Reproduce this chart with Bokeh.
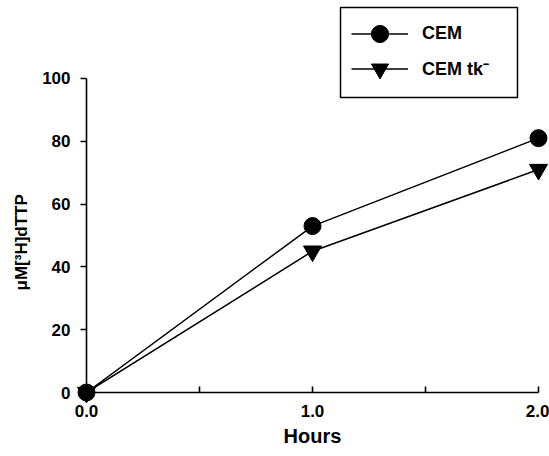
from bokeh.plotting import figure
from bokeh.models import (Range1d, FixedTicker, Legend, LegendItem, NumeralTickFormatter,
                          BoxAnnotation, Title)
from bokeh.embed import file_html
from bokeh.resources import INLINE

hours = [0.0, 1.0, 2.0]
cem = [0, 53, 81]
cem_tk = [0, 45, 71]
x_ticks = [0, 1, 2]
x_minor = [0.5, 1.5]
y_ticks = [0, 20, 40, 60, 80, 100]
series_labels = ["CEM", "CEM tk⁻"]
y_title = "μM[³H]dTTP"

FONT = "Liberation Sans"

p = figure(frame_width=452, frame_height=392, output_backend="svg", toolbar_location=None,
           x_range=Range1d(0, 2), y_range=Range1d(0, 124.84),
           min_border_left=86, min_border_top=0, min_border_right=11, min_border_bottom=10)
p.outline_line_color = None
p.xgrid.visible = False
p.ygrid.visible = False

xa = p.xaxis[0]
ya = p.yaxis[0]
ya.bounds = (0, 100)

xa.ticker = FixedTicker(ticks=x_ticks, minor_ticks=x_minor)
xa.formatter = NumeralTickFormatter(format="0.0")
xa.major_tick_in = 6
xa.major_tick_out = 0
xa.minor_tick_in = 6
xa.minor_tick_out = 0
xa.axis_label = "Hours"
ya.ticker = FixedTicker(ticks=y_ticks)
ya.major_tick_in = 0
ya.major_tick_out = 6
ya.minor_tick_line_color = None

for ax in (xa, ya):
    ax.axis_line_width = 1.6
    ax.major_tick_line_width = 1.6
    ax.minor_tick_line_width = 1.6
    ax.axis_line_color = "black"
    ax.major_tick_line_color = "black"
    ax.major_label_text_font = FONT
    ax.major_label_text_font_style = "bold"
    ax.major_label_text_font_size = "17px"
    ax.major_label_text_color = "black"
    ax.axis_label_text_font = FONT
    ax.axis_label_text_color = "black"
xa.minor_tick_line_color = "black"
xa.axis_label_text_font_style = "bold"
xa.axis_label_text_font_size = "20px"
xa.major_label_standoff = 12
xa.axis_label_standoff = 5
ya.major_label_standoff = 10

# y axis title, placed as a side title so it can sit centred on the 0-100 span
yt = Title(text=y_title, align="left", offset=102, standoff=18,
           text_font=FONT, text_font_size="17px", text_font_style="bold",
           text_color="black")
p.add_layout(yt, "left")

l1 = p.line(hours, cem, line_color="black", line_width=1.5)
s1 = p.scatter(hours, cem, marker="circle", size=17, fill_color="black", line_color="black",
               level="overlay")
l2 = p.line(hours, cem_tk, line_color="black", line_width=1.5)
s2 = p.scatter(hours, cem_tk, marker="inverted_triangle", size=18, fill_color="black",
               line_color="black", level="overlay")

# legend frame (screen units: from frame left / frame bottom)
box = BoxAnnotation(left=254, right=431, top=385, bottom=295,
                    left_units="screen", right_units="screen",
                    top_units="screen", bottom_units="screen",
                    fill_alpha=0, line_color="black", line_width=1.5, line_alpha=1)
p.add_layout(box)

def make_legend(label, rends, loc):
    lg = Legend(items=[LegendItem(label=label, renderers=rends)], location=loc,
                orientation="vertical")
    lg.glyph_width = 57
    lg.glyph_height = 43
    lg.padding = 0
    lg.margin = 0
    lg.label_standoff = 14
    lg.label_text_font = FONT
    lg.label_text_font_style = "bold"
    lg.label_text_font_size = "18px"
    lg.label_text_color = "black"
    lg.border_line_color = None
    lg.background_fill_alpha = 0
    return lg

p.add_layout(make_legend(series_labels[0], [l1, s1], (265, 337.5)), "center")
p.add_layout(make_legend(series_labels[1], [l2, s2], (265, 302.5)), "center")

open("out.html", "w").write(file_html(p, INLINE))
